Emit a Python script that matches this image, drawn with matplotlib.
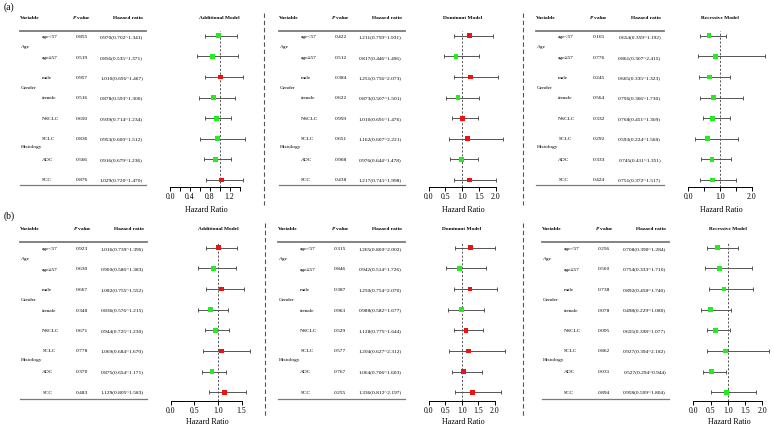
import matplotlib
matplotlib.use("Agg")
import matplotlib.pyplot as plt
import matplotlib.transforms as mtransforms
from matplotlib.lines import Line2D
import numpy as np

plt.rcParams['font.family'] = ['Liberation Serif', 'DejaVu Serif']
plt.rcParams['mathtext.fontset'] = 'custom'
plt.rcParams['mathtext.it'] = 'Liberation Serif:italic:bold'
plt.rcParams['mathtext.rm'] = 'Liberation Serif:bold'

# ---------------- data ----------------
subgroups = ["age<57", "age\u226557", "male", "female", "NSCLC", "SCLC", "ADC", "SCC"]
group_names = ["Age", "Gender", "Histology"]
group_rows = [0.5, 2.5, 5.4]

# (a) Additional
a_add_p = ["0.855", "0.519", "0.957", "0.516", "0.650", "0.836", "0.566", "0.876"]
a_add_hr = [0.970, 0.856, 1.010, 0.878, 0.939, 0.953, 0.916, 1.029]
a_add_lo = [0.702, 0.535, 0.696, 0.593, 0.714, 0.600, 0.679, 0.720]
a_add_hi = [1.341, 1.371, 1.467, 1.300, 1.234, 1.512, 1.236, 1.470]
# (a) Dominant
a_dom_p = ["0.422", "0.512", "0.384", "0.622", "0.959", "0.651", "0.908", "0.438"]
a_dom_hr = [1.211, 0.817, 1.251, 0.873, 1.010, 1.162, 0.976, 1.217]
a_dom_lo = [0.759, 0.446, 0.756, 0.507, 0.691, 0.607, 0.644, 0.741]
a_dom_hi = [1.931, 1.496, 2.073, 1.501, 1.476, 2.221, 1.478, 1.998]
# (a) Recessive
a_rec_p = ["0.165", "0.776", "0.245", "0.564", "0.332", "0.292", "0.333", "0.424"]
a_rec_hr = [0.654, 0.861, 0.665, 0.796, 0.768, 0.593, 0.745, 0.751]
a_rec_lo = [0.359, 0.307, 0.335, 0.366, 0.451, 0.224, 0.411, 0.372]
a_rec_hi = [1.192, 2.415, 1.323, 1.730, 1.309, 1.568, 1.351, 1.517]
# (b) Additional
b_add_p = ["0.923", "0.630", "0.667", "0.348", "0.671", "0.778", "0.370", "0.483"]
b_add_hr = [1.016, 0.900, 1.082, 0.836, 0.944, 1.069, 0.875, 1.129]
b_add_lo = [0.739, 0.586, 0.755, 0.576, 0.725, 0.684, 0.654, 0.805]
b_add_hi = [1.396, 1.383, 1.552, 1.215, 1.230, 1.670, 1.171, 1.583]
# (b) Dominant
b_dom_p = ["0.315", "0.846", "0.387", "0.963", "0.529", "0.577", "0.767", "0.255"]
b_dom_hr = [1.265, 0.942, 1.250, 0.988, 1.128, 1.204, 1.064, 1.336]
b_dom_lo = [0.800, 0.514, 0.754, 0.582, 0.775, 0.627, 0.706, 0.812]
b_dom_hi = [2.002, 1.726, 2.070, 1.677, 1.644, 2.312, 1.603, 2.197]
# (b) Recessive
b_rec_p = ["0.256", "0.500", "0.738", "0.078", "0.095", "0.862", "0.031", "0.894"]
b_rec_hr = [0.708, 0.754, 0.892, 0.498, 0.655, 0.927, 0.527, 0.958]
b_rec_lo = [0.390, 0.333, 0.458, 0.229, 0.398, 0.394, 0.294, 0.509]
b_rec_hi = [1.284, 1.710, 1.740, 1.080, 1.077, 2.182, 0.944, 1.804]

ticks_14 = [0.0, 0.2, 0.4, 0.6, 0.8, 1.0, 1.2, 1.4]
ticklabels_14 = ["0.0", "", "0.4", "", "0.8", "", "1.2", ""]
ticks_15 = [0.0, 0.5, 1.0, 1.5]
ticklabels_15 = ["0.0", "0.5", "1.0", "1.5"]
ticks_20 = [0.0, 0.5, 1.0, 1.5, 2.0]
ticklabels_20 = ["0.0", "0.5", "1.0", "1.5", "2.0"]
ticklabels_20s = ["0.0", "", "1.0", "", "2.0"]

model_titles = ["Additional Model", "Dominant Model", "Recessive Model"]

# ---------------- drawing ----------------
W, H = 773, 430
fig = plt.figure(figsize=(W / 100, H / 100), dpi=100)


def fx(p):
    return p / W


def fy(p):
    return 1 - p / H


RED = "#f01010"
GREEN = "#1fee1f"
GREY = "#555555"
FS_T = 3.9


def panel(title, pv, hr, lo, hi, ticks, ticklabels, tbl, x0, xmax, ppu, vert):
    row0, step, header_y, top_y, bot_y, spine_y, hrlab_y = vert
    tl, tr = tbl
    # table axes
    tax = fig.add_axes([fx(tl), fy(bot_y), fx(tr) - fx(tl), fy(top_y) - fy(bot_y)])
    tax.set_xlim(0, 1)
    ylo, yhi = (bot_y - row0) / step, (top_y - row0) / step
    tax.set_ylim(ylo, yhi)
    tax.axis("off")
    tax.axhline(yhi, color="#7a7a7a", lw=1.3, clip_on=False)
    tax.axhline(ylo, color="#7a7a7a", lw=0.9, clip_on=False)
    hy = (header_y - row0) / step
    tax.text(0.0, hy, "Variable", ha="left", va="center", fontsize=FS_T, fontweight="bold")
    tax.text(0.49, hy, "$P$ value", ha="center", va="center", fontsize=FS_T, fontweight="bold")
    tax.text(0.975, hy, "Hazard ratio", ha="right", va="center", fontsize=FS_T, fontweight="bold")
    for g, gr in zip(group_names, group_rows):
        tax.text(0.008, gr, g, ha="left", va="center", fontsize=FS_T)
    for i, s in enumerate(subgroups):
        tax.text(0.175, i, s, ha="left", va="center", fontsize=FS_T)
        tax.text(0.49, i, pv[i], ha="center", va="center", fontsize=FS_T)
        tax.text(0.975, i, "%.3f(%.3f~%.3f)" % (hr[i], lo[i], hi[i]),
                 ha="right", va="center", fontsize=FS_T)

    # forest axes
    ax = fig.add_axes([fx(x0), fy(spine_y), fx(x0 + xmax * ppu) - fx(x0), fy(top_y) - fy(spine_y)])
    ax.patch.set_alpha(0)
    ax.set_xlim(0, xmax)
    ax.set_ylim((spine_y - row0) / step, (top_y + 1.5 - row0) / step)
    y = np.arange(len(hr))
    hr_a, lo_a, hi_a = np.array(hr), np.array(lo), np.array(hi)
    ax.axvline(1.0, color=GREY, lw=0.7, ls=(0, (2.2, 1.8)), zorder=1)
    eb = ax.errorbar(hr_a, y, xerr=[hr_a - lo_a, hi_a - hr_a], fmt="none", ecolor=GREY,
                     elinewidth=0.7, capsize=1.4, capthick=0.7, zorder=2)
    for art in list(eb.lines[1]) + list(eb.lines[2]):
        art.set_clip_on(False)
    colors = [RED if v > 1 else GREEN for v in hr]
    ax.scatter(hr_a, y, marker="s", s=12, c=colors, zorder=3, clip_on=False, linewidths=0)
    for sp in ["top", "left", "right"]:
        ax.spines[sp].set_visible(False)
    ax.spines["bottom"].set_linewidth(0.7)
    ax.set_yticks([])
    ax.set_xticks(ticks)
    ax.set_xticklabels(ticklabels, fontsize=5.6)
    ax.tick_params(axis="x", length=3, width=0.7, pad=1.2, direction="out")
    tr_ = mtransforms.blended_transform_factory(ax.transData, fig.transFigure)
    ax.text(1.0, fy(header_y), title, transform=tr_, ha="center", va="center",
            fontsize=FS_T, fontweight="bold")
    fig.text(fx(x0 + xmax * ppu / 2 + 1.5), fy(hrlab_y), "Hazard Ratio", ha="center",
             va="center", fontsize=5.8)


vert_a = (37.3, 20.4, 17.7, 31.0, 185.5, 186.7, 210.0)
vert_b = (249.0, 20.5, 229.0, 241.7, 399.0, 400.7, 421.7)

panel(model_titles[0], a_add_p, a_add_hr, a_add_lo, a_add_hi, ticks_14, ticklabels_14,
      (20, 146), 170, 1.4, 49.7, vert_a)
panel(model_titles[1], a_dom_p, a_dom_hr, a_dom_lo, a_dom_hi, ticks_20, ticklabels_20,
      (278.7, 404.7), 428.7, 2.0, 33.5, vert_a)
panel(model_titles[2], a_rec_p, a_rec_hr, a_rec_lo, a_rec_hi, ticks_20, ticklabels_20s,
      (535.7, 664.3), 688.3, 2.0, 31.7, vert_a)
panel(model_titles[0], b_add_p, b_add_hr, b_add_lo, b_add_hi, ticks_15, ticklabels_15,
      (20, 146.7), 170.7, 1.5, 47.3, vert_b)
panel(model_titles[1], b_dom_p, b_dom_hr, b_dom_lo, b_dom_hi, ticks_20, ticklabels_20,
      (278, 404.7), 428.7, 2.0, 33.0, vert_b)
panel(model_titles[2], b_rec_p, b_rec_hr, b_rec_lo, b_rec_hi, ticks_20, ticklabels_20,
      (541.7, 669.3), 693.3, 2.0, 34.5, vert_b)

# separators
for xp, (y0, y1) in [(264, (13, 205)), (523, (13, 205)), (264.5, (223, 418)), (523, (223, 418))]:
    fig.add_artist(Line2D([fx(xp), fx(xp)], [fy(y0), fy(y1)], transform=fig.transFigure,
                          color=GREY, lw=0.8, ls=(0, (4, 2.5))))

fig.text(fx(4), fy(7.5), "(a)", ha="left", va="center", fontsize=7)
fig.text(fx(4), fy(216.5), "(b)", ha="left", va="center", fontsize=7)

fig.savefig("out.png", dpi=100)
